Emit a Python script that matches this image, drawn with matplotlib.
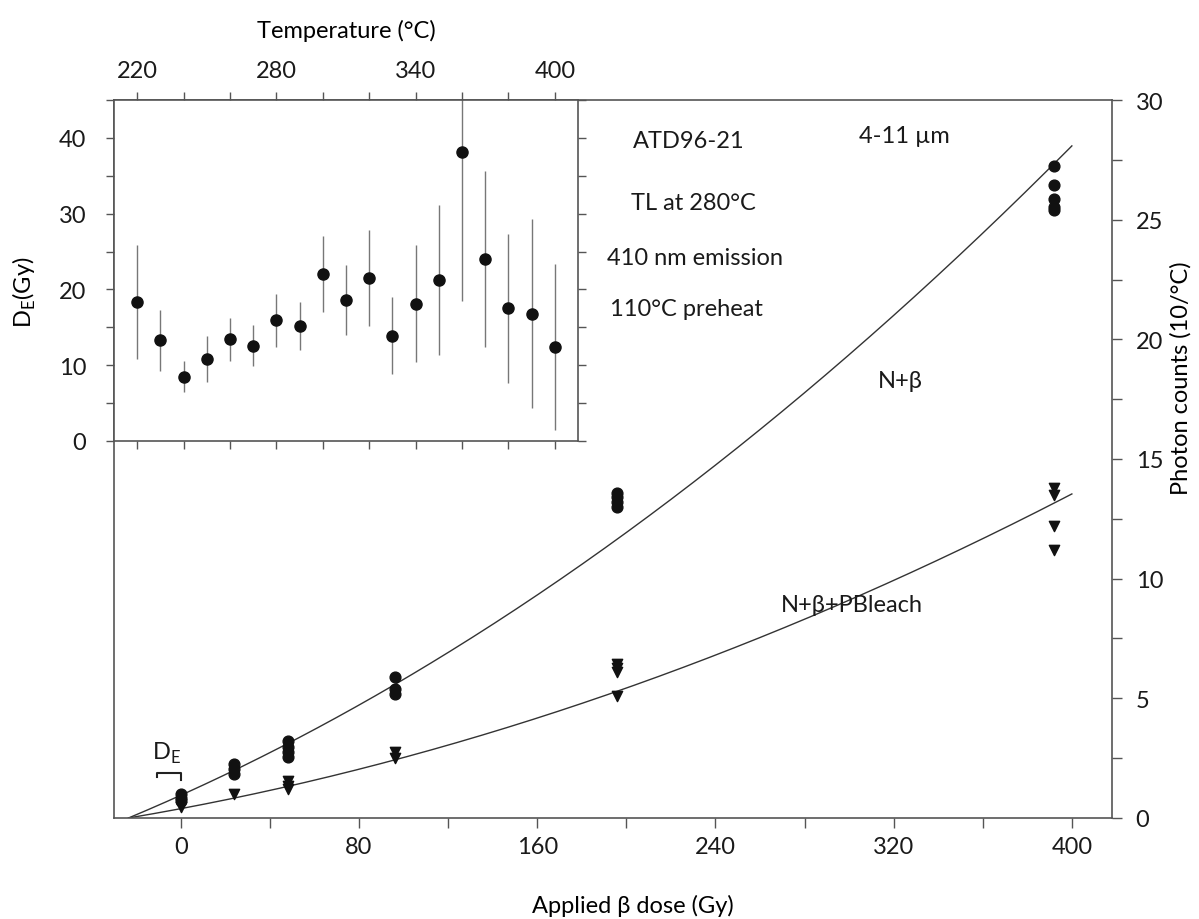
import matplotlib.pyplot as plt
import numpy as np
from matplotlib.ticker import MultipleLocator

plt.rcParams['font.family'] = ['Lato', 'DejaVu Sans']
plt.rcParams['mathtext.fontset'] = 'custom'
plt.rcParams['mathtext.rm'] = 'Lato'
plt.rcParams['font.size'] = 17
plt.rcParams['text.color'] = '#1a1a1a'
plt.rcParams['axes.edgecolor'] = '#555555'
plt.rcParams['xtick.color'] = '#555555'
plt.rcParams['ytick.color'] = '#555555'
plt.rcParams['xtick.labelcolor'] = '#1a1a1a'
plt.rcParams['ytick.labelcolor'] = '#1a1a1a'

# growth curve: natural + beta
nb_dose = [0, 0, 0, 24, 24, 24, 48, 48, 48, 48, 96, 96, 96,
           196, 196, 196, 196, 392, 392, 392, 392, 392]
nb_counts = [1.0, 0.85, 0.7, 2.25, 2.05, 1.85, 3.2, 2.95, 2.75, 2.55,
             5.9, 5.4, 5.2, 13.6, 13.4, 13.2, 13.0,
             27.25, 26.45, 25.85, 25.55, 25.4]

# natural + beta + partial bleach
pb_dose = [0, 0, 24, 48, 48, 48, 96, 96, 196, 196, 196, 196,
           392, 392, 392, 392]
pb_counts = [0.6, 0.45, 1.0, 1.55, 1.35, 1.2, 2.75, 2.5,
             6.45, 6.25, 6.1, 5.1, 13.8, 13.5, 12.2, 11.2]

# quadratic fits y = a*(D + De) + b*(D + De)^2
de_offset = 23.5
nb_fit = (0.03891, 6.47e-5)
pb_fit = (0.015717, 3.838e-5)

# equivalent dose plateau
temps = [220, 230, 240, 250, 260, 270, 280, 290, 300, 310,
         320, 330, 340, 350, 360, 370, 380, 390, 400]
de_vals = [18.3, 13.3, 8.5, 10.8, 13.4, 12.6, 15.9, 15.2, 22.0, 18.6,
           21.5, 13.9, 18.1, 21.3, 38.2, 24.0, 17.5, 16.8, 12.4]
de_err = [7.5, 4.0, 2.0, 3.0, 2.8, 2.7, 3.5, 3.2, 5.0, 4.6,
          6.3, 5.1, 7.7, 9.9, 19.7, 11.6, 9.8, 12.5, 11.0]

fig = plt.figure(figsize=(11.99, 9.2), dpi=100)
ax = fig.add_axes([0.0951, 0.1098, 0.8323, 0.7804])

ax.scatter(nb_dose, nb_counts, s=60, marker='o', color='#111111', zorder=3)
ax.scatter(pb_dose, pb_counts, s=55, marker='v', color='#111111', zorder=3)

dd = np.linspace(-de_offset, 400, 300)
u = dd + de_offset
ax.plot(dd, nb_fit[0] * u + nb_fit[1] * u ** 2, color='#333333', lw=1.0)
ax.plot(dd, pb_fit[0] * u + pb_fit[1] * u ** 2, color='#333333', lw=1.0)

ax.set_xlim(-30, 418)
ax.set_ylim(0, 30)
ax.xaxis.set_major_locator(MultipleLocator(80))
ax.xaxis.set_minor_locator(MultipleLocator(40))
ax.yaxis.set_major_locator(MultipleLocator(5))
ax.yaxis.set_minor_locator(MultipleLocator(2.5))
ax.tick_params(which='both', direction='out', length=7, width=1.0,
               left=False, labelleft=False, right=True, labelright=True)
ax.tick_params(axis='x', pad=6)
ax.tick_params(axis='y', pad=10)
for sp in ax.spines.values():
    sp.set_linewidth(1.2)

ax.set_xlabel(u'Applied \u03b2 dose (Gy)')
ax.xaxis.set_label_coords(0.52, -0.106)
ax.yaxis.set_label_position('right')
ax.set_ylabel(u'Photon counts (10/\u00b0C)', rotation=90)
ax.yaxis.set_label_coords(1.058, 0.614)

ax.text(228, 28.3, 'ATD96-21', ha='center', va='center')
ax.text(325, 28.5, u'4-11 \u00b5m', ha='center', va='center')
ax.text(230, 25.7, u'TL at 280\u00b0C', ha='center', va='center')
ax.text(231, 23.4, '410 nm emission', ha='center', va='center')
ax.text(227, 21.3, u'110\u00b0C preheat', ha='center', va='center')
ax.text(333, 18.3, u'N+\u03b2', ha='right', va='center')
ax.text(333, 8.9, u'N+\u03b2+PBleach', ha='right', va='center')

# D_E bracket near the origin
ax.plot([-10.5, -10.5, 0, 0], [1.7, 1.88, 1.88, 1.6], color='#222222', lw=1.5)
ax.text(-6.5, 2.75, r'D$_\mathrm{E}$', ha='center', va='center')

# inset: equivalent dose vs glow-curve temperature
ins = fig.add_axes([0.0951, 0.5196, 0.3870, 0.3706])
ins.set_facecolor('white')
ins.errorbar(temps, de_vals, yerr=de_err, fmt='o', color='#111111',
             ms=8, ecolor='#777777', elinewidth=1.0, capsize=0)
ins.set_xlim(210, 410)
ins.set_ylim(0, 45)
ins.xaxis.set_major_locator(MultipleLocator(60))
ins.xaxis.set_minor_locator(MultipleLocator(20))
ins.yaxis.set_major_locator(MultipleLocator(10))
ins.yaxis.set_minor_locator(MultipleLocator(5))
ins.tick_params(which='both', direction='out', length=6, width=1.0,
                top=True, labeltop=True, bottom=True, labelbottom=False,
                right=True)
ins.tick_params(axis='x', pad=8)
ins.tick_params(axis='y', pad=14)
ins.set_xticks(np.arange(220, 401, 60))
for sp in ins.spines.values():
    sp.set_linewidth(1.2)
ins.xaxis.set_label_position('top')
ins.set_xlabel(u'Temperature (\u00b0C)', labelpad=16)
ins.set_ylabel(r'D$_\mathrm{E}$(Gy)')
ins.yaxis.set_label_coords(-0.164, 0.44)

fig.savefig('out.png', dpi=100)
